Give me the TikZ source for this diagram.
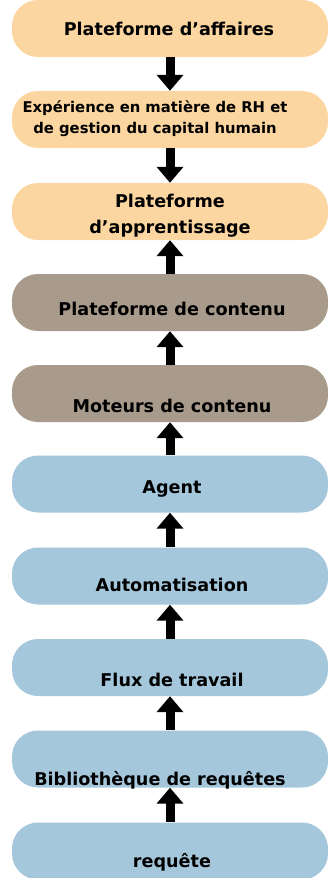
\documentclass[tikz,border=0pt]{standalone}
\usepackage{fontspec}
\setmainfont{DejaVu Sans}
\usetikzlibrary{arrows.meta}
\definecolor{peach}{RGB}{252,214,160}
\definecolor{taupe}{RGB}{168,155,140}
\definecolor{skyblue}{RGB}{165,199,219}

\begin{document}
\begin{tikzpicture}[x=1pt,y=-1pt,
box/.style={rounded corners=26pt,minimum width=316pt,minimum height=57pt,inner sep=0pt},
lbl/.style={font=\bfseries\fontsize{17.6}{26}\selectfont,align=center,inner sep=0pt,anchor=base},
blockarrow/.style={line width=9pt,-{Triangle[length=16pt,width=26pt]}}]
\useasboundingbox (0,0) rectangle (328,878);
\node[box,fill=peach] (b1) at (170,28.5) {};
\node[box,fill=peach] (b2) at (170,119.5) {};
\node[box,fill=peach] (b3) at (170,211.5) {};
\node[box,fill=taupe] (b4) at (170,302.5) {};
\node[box,fill=taupe] (b5) at (170,393.5) {};
\node[box,fill=skyblue] (b6) at (170,484) {};
\node[box,fill=skyblue] (b7) at (170,576) {};
\node[box,fill=skyblue] (b8) at (170,667.5) {};
\node[box,fill=skyblue] (b9) at (170,759) {};
\node[box,fill=skyblue] (b10) at (170,851) {};
\node[lbl] (t1) at (169,35) {Plateforme d’affaires};
\node[lbl,font=\bfseries\fontsize{14.8}{21}\selectfont] (t2) at (155,133) {Expérience en matière de RH et\\de gestion du capital humain};
\node[lbl] (t3) at (170,233) {Plateforme\\d’apprentissage};
\node[lbl] (t4) at (172,315) {Plateforme de contenu};
\node[lbl] (t5) at (172,412) {Moteurs de contenu};
\node[lbl] (t6) at (172,493) {Agent};
\node[lbl] (t7) at (172,591) {Automatisation};
\node[lbl] (t8) at (172,686) {Flux de travail};
\node[lbl] (t9) at (160,785) {Bibliothèque de requêtes};
\node[lbl] (t10) at (172,867) {requête};
\draw[blockarrow] (b1) -- (b2);
\draw[blockarrow] (b2) -- (b3);
\draw[blockarrow] (b4) -- (b3);
\draw[blockarrow] (b5) -- (b4);
\draw[blockarrow] (b6) -- (b5);
\draw[blockarrow] (b7) -- (b6);
\draw[blockarrow] (b8) -- (b7);
\draw[blockarrow] (b9) -- (b8);
\draw[blockarrow] (b10) -- (b9);
\end{tikzpicture}
\end{document}
